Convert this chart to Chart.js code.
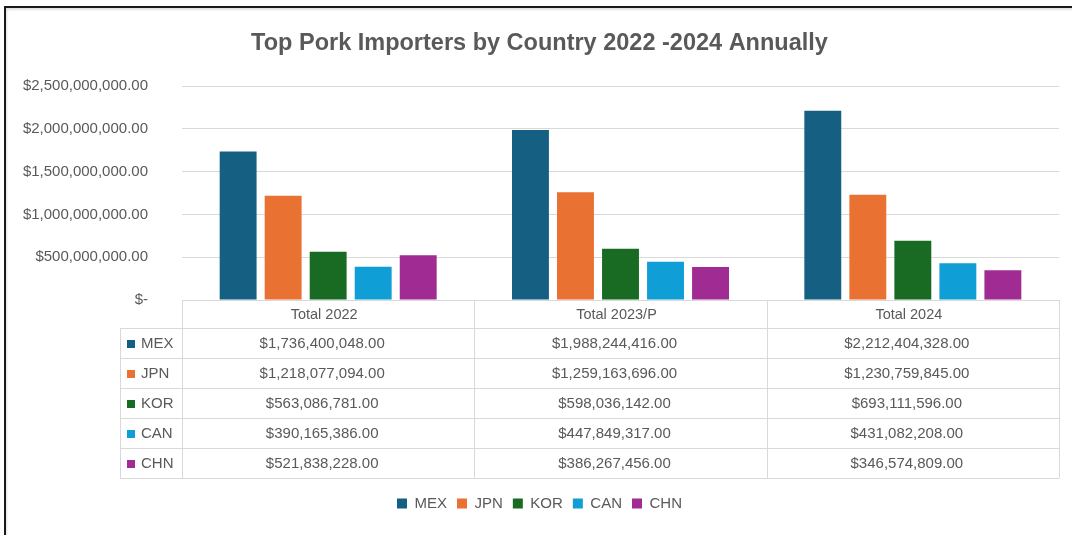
<!DOCTYPE html>
<html>
<head>
<meta charset="utf-8">
<script src="https://cdn.jsdelivr.net/npm/chart.js@4"></script>
<style>
  html, body { margin: 0; padding: 0; background: #fff; }
  body { width: 1072px; height: 535px; position: relative; overflow: hidden; }
  #frame { position: absolute; left: 4px; top: 6px; width: 1100px; height: 600px;
    border: 2px solid #1a1a1a; box-shadow: inset 1px 2px 2px rgba(0,0,0,0.12); }
  #wrap { position: absolute; left: 0; top: 0; width: 1072px; height: 535px; }
</style>
</head>
<body>
<div id="frame"></div>
<div id="wrap"><canvas id="chart"></canvas></div>
<script>
/* pork importers chart */
const categories = ['Total 2022', 'Total 2023/P', 'Total 2024'];
const countries = ['MEX', 'JPN', 'KOR', 'CAN', 'CHN'];
const mexValues = [1736400048, 1988244416, 2212404328];
const jpnValues = [1218077094, 1259163696, 1230759845];
const korValues = [563086781, 598036142, 693111596];
const canValues = [390165386, 447849317, 431082208];
const chnValues = [521838228, 386267456, 346574809];
const colors = ['#156082', '#E97132', '#196B24', '#0F9ED5', '#A02B93'];

const FONT = "'Liberation Sans', Arial, sans-serif";
const TEXT = '#595959';
const LINE = '#d9d9d9';

function fmtMoney(v) {
  if (!v) return '$-';
  return '$' + v.toLocaleString('en-US', { minimumFractionDigits: 2, maximumFractionDigits: 2 });
}

const allValues = [mexValues, jpnValues, korValues, canValues, chnValues];

// data table under the plot, drawn from the x scale
const tablePlugin = {
  id: 'dataTable',
  afterDraw(chart) {
    const { ctx, chartArea: a, scales: { x } } = chart;
    const top = a.bottom, headH = 28, rowH = 30, keyLeft = 120;
    const colW = (a.right - a.left) / categories.length;
    const bottom = top + headH + rowH * countries.length;
    ctx.save();
    ctx.strokeStyle = LINE;
    ctx.lineWidth = 1;
    ctx.beginPath();
    ctx.moveTo(a.left, Math.round(top) + 0.5);
    ctx.lineTo(a.right, Math.round(top) + 0.5);
    for (let r = 0; r <= countries.length; r++) {
      const y = Math.round(top + headH + r * rowH) + 0.5;
      ctx.moveTo(keyLeft, y);
      ctx.lineTo(a.right, y);
    }
    ctx.moveTo(keyLeft + 0.5, top + headH);
    ctx.lineTo(keyLeft + 0.5, bottom);
    for (let c = 0; c <= categories.length; c++) {
      const xx = Math.round(a.left + c * colW) + 0.5;
      ctx.moveTo(xx, top);
      ctx.lineTo(xx, bottom);
    }
    ctx.stroke();

    ctx.fillStyle = TEXT;
    ctx.font = '14.5px ' + FONT;
    ctx.textBaseline = 'middle';
    ctx.textAlign = 'center';
    categories.forEach((c, i) => ctx.fillText(c, x.getPixelForValue(i) - 4, top + headH / 2 + 1));
    ctx.font = '15px ' + FONT;
    chart.data.datasets.forEach((ds, r) => {
      const cy = top + headH + r * rowH + rowH / 2 + 1;
      ctx.fillStyle = ds.backgroundColor;
      ctx.fillRect(127, Math.round(cy - 4), 8, 8);
      ctx.fillStyle = TEXT;
      ctx.textAlign = 'left';
      ctx.fillText(ds.label, 141, cy);
      ctx.textAlign = 'center';
      ds.data.forEach((v, i) => ctx.fillText(fmtMoney(v), x.getPixelForValue(i) - 6, cy));
    });
    ctx.restore();
  }
};

const chart = new Chart(document.getElementById('chart'), {
  type: 'bar',
  data: {
    labels: categories,
    datasets: countries.map((c, i) => ({
      label: c,
      data: allValues[i],
      backgroundColor: colors[i],
      categoryPercentage: 0.77,
      barPercentage: 0.82
    }))
  },
  options: {
    responsive: true,
    maintainAspectRatio: false,
    animation: false,
    layout: { padding: { left: 20, right: 13, top: 0, bottom: 14 } },
    plugins: {
      title: {
        display: true,
        text: 'Top Pork Importers by Country 2022 -2024 Annually',
        color: TEXT,
        font: { family: FONT, size: 23.5, weight: 'bold' },
        padding: { top: 29, bottom: 29 }
      },
      legend: {
        position: 'bottom',
        labels: {
          color: TEXT,
          font: { family: FONT, size: 15 },
          boxWidth: 10,
          boxHeight: 10,
          padding: 10
        }
      },
      tooltip: { enabled: false }
    },
    scales: {
      x: {
        ticks: { display: false },
        grid: { display: false },
        border: { display: false },
        afterFit: s => { s.height = 186; }
      },
      y: {
        min: 0,
        max: 2500000000,
        ticks: {
          stepSize: 500000000,
          color: TEXT,
          padding: 34,
          font: { family: FONT, size: 15 },
          callback: v => fmtMoney(v)
        },
        grid: { color: LINE, drawTicks: false },
        border: { display: false },
        afterFit: s => { s.width = 162; }
      }
    }
  },
  plugins: [tablePlugin]
});
</script>
</body>
</html>
